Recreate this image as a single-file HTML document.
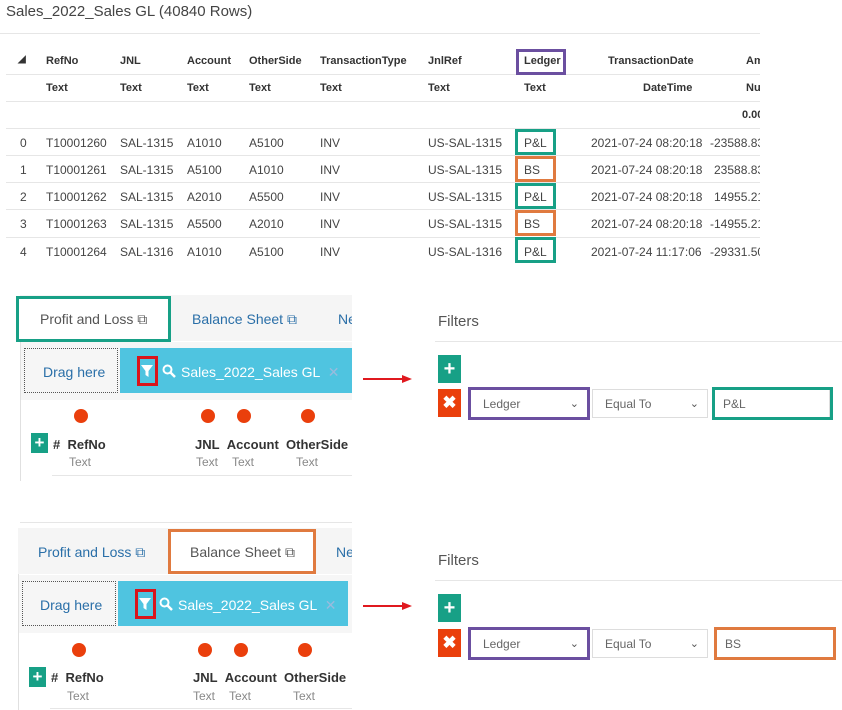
<!DOCTYPE html>
<html><head><meta charset="utf-8"><style>
body{margin:0;width:842px;height:710px;background:#fff;position:relative;overflow:hidden;font-family:"Liberation Sans",Arial,sans-serif;color:#444}
.a{position:absolute;white-space:nowrap}
.t{font-size:12px;color:#444}
.b{font-weight:bold;font-size:11px;color:#333}
.hl{position:absolute;height:1px;background:#e6e6e6}
.box{position:absolute;box-sizing:border-box;border:3px solid}
.g{border-color:#17a086}.o{border-color:#e07a3f}.p{border-color:#6b4fa0}
.dot{position:absolute;width:14px;height:14px;border-radius:50%;background:#ea3f0c}
.sel{position:absolute;box-sizing:border-box;border:1px solid #ddd;background:#fff;font-size:12px;color:#666;padding-left:12px;line-height:28px}
.sel .c{position:absolute;right:8px;top:0;font-size:11px;color:#555}
.fn{position:absolute;width:14px;height:14px}
</style></head><body>
<div class="a" style="left:6px;top:3px;font-size:15px;color:#444">Sales_2022_Sales GL (40840 Rows)</div>
<div class="hl" style="left:0;top:33px;width:760px"></div>
<div class="a b" style="left:18px;top:54px;font-size:10px">◢</div>
<div class="a b" style="left:46px;top:55px">RefNo</div><div class="a b" style="left:120px;top:55px">JNL</div><div class="a b" style="left:187px;top:55px">Account</div><div class="a b" style="left:249px;top:55px">OtherSide</div><div class="a b" style="left:320px;top:55px">TransactionType</div><div class="a b" style="left:428px;top:55px">JnlRef</div><div class="a b" style="left:524px;top:55px">Ledger</div><div class="a b" style="left:608px;top:55px">TransactionDate</div><div class="a b" style="left:746px;top:55px">Am</div>
<div class="hl" style="left:6px;top:74px;width:754px"></div>
<div class="a b" style="left:46px;top:82px">Text</div><div class="a b" style="left:120px;top:82px">Text</div><div class="a b" style="left:187px;top:82px">Text</div><div class="a b" style="left:249px;top:82px">Text</div><div class="a b" style="left:320px;top:82px">Text</div><div class="a b" style="left:428px;top:82px">Text</div><div class="a b" style="left:524px;top:82px">Text</div><div class="a b" style="left:643px;top:82px">DateTime</div><div class="a b" style="left:746px;top:82px">Nu</div>
<div class="hl" style="left:6px;top:101px;width:754px"></div>
<div class="a b" style="left:742px;top:109px">0.00</div>
<div class="hl" style="left:6px;top:128px;width:754px"></div>
<div class="box p" style="left:516px;top:49px;width:50px;height:26px"></div>

<div class="a t" style="left:20px;top:136px">0</div><div class="a t" style="left:46px;top:136px">T10001260</div><div class="a t" style="left:120px;top:136px">SAL-1315</div><div class="a t" style="left:187px;top:136px">A1010</div><div class="a t" style="left:249px;top:136px">A5100</div><div class="a t" style="left:320px;top:136px">INV</div><div class="a t" style="left:428px;top:136px">US-SAL-1315</div><div class="a t" style="left:524px;top:136px">P&amp;L</div><div class="a t" style="left:591px;top:136px">2021-07-24 08:20:18</div><div class="a t" style="left:710px;top:136px">-23588.83</div>
<div class="hl" style="left:6px;top:155px;width:754px"></div>
<div class="a t" style="left:20px;top:163px">1</div><div class="a t" style="left:46px;top:163px">T10001261</div><div class="a t" style="left:120px;top:163px">SAL-1315</div><div class="a t" style="left:187px;top:163px">A5100</div><div class="a t" style="left:249px;top:163px">A1010</div><div class="a t" style="left:320px;top:163px">INV</div><div class="a t" style="left:428px;top:163px">US-SAL-1315</div><div class="a t" style="left:524px;top:163px">BS</div><div class="a t" style="left:591px;top:163px">2021-07-24 08:20:18</div><div class="a t" style="left:714px;top:163px">23588.83</div>
<div class="hl" style="left:6px;top:182px;width:754px"></div>
<div class="a t" style="left:20px;top:190px">2</div><div class="a t" style="left:46px;top:190px">T10001262</div><div class="a t" style="left:120px;top:190px">SAL-1315</div><div class="a t" style="left:187px;top:190px">A2010</div><div class="a t" style="left:249px;top:190px">A5500</div><div class="a t" style="left:320px;top:190px">INV</div><div class="a t" style="left:428px;top:190px">US-SAL-1315</div><div class="a t" style="left:524px;top:190px">P&amp;L</div><div class="a t" style="left:591px;top:190px">2021-07-24 08:20:18</div><div class="a t" style="left:714px;top:190px">14955.21</div>
<div class="hl" style="left:6px;top:209px;width:754px"></div>
<div class="a t" style="left:20px;top:217px">3</div><div class="a t" style="left:46px;top:217px">T10001263</div><div class="a t" style="left:120px;top:217px">SAL-1315</div><div class="a t" style="left:187px;top:217px">A5500</div><div class="a t" style="left:249px;top:217px">A2010</div><div class="a t" style="left:320px;top:217px">INV</div><div class="a t" style="left:428px;top:217px">US-SAL-1315</div><div class="a t" style="left:524px;top:217px">BS</div><div class="a t" style="left:591px;top:217px">2021-07-24 08:20:18</div><div class="a t" style="left:710px;top:217px">-14955.21</div>
<div class="hl" style="left:6px;top:237px;width:754px"></div>
<div class="a t" style="left:20px;top:245px">4</div><div class="a t" style="left:46px;top:245px">T10001264</div><div class="a t" style="left:120px;top:245px">SAL-1316</div><div class="a t" style="left:187px;top:245px">A1010</div><div class="a t" style="left:249px;top:245px">A5100</div><div class="a t" style="left:320px;top:245px">INV</div><div class="a t" style="left:428px;top:245px">US-SAL-1316</div><div class="a t" style="left:524px;top:245px">P&amp;L</div><div class="a t" style="left:591px;top:245px">2021-07-24 11:17:06</div><div class="a t" style="left:710px;top:245px">-29331.50</div>
<div style="position:absolute;left:760px;top:40px;width:82px;height:230px;background:#fff"></div>
<div class="box g" style="left:515px;top:129px;width:41px;height:26px"></div>
<div class="box o" style="left:515px;top:156px;width:41px;height:26px"></div>
<div class="box g" style="left:515px;top:183px;width:41px;height:26px"></div>
<div class="box o" style="left:515px;top:210px;width:41px;height:26px"></div>
<div class="box g" style="left:515px;top:237px;width:41px;height:26px"></div>

<!-- panel 1 -->
<div style="position:absolute;left:20px;top:295px;width:332px;height:46px;background:#f5f5f5"></div>
<div style="position:absolute;left:20px;top:341px;width:1px;height:140px;background:#e0e0e0"></div>
<div style="position:absolute;left:16px;top:296px;width:155px;height:45px;background:#fff"></div>
<div class="box g" style="left:16px;top:296px;width:155px;height:46px"></div>
<div class="a" style="left:40px;top:311px;font-size:14px;color:#555">Profit and Loss ⧉</div>
<div class="a" style="left:192px;top:311px;font-size:14px;color:#2a6fa8">Balance Sheet ⧉</div>
<div class="a" style="left:338px;top:311px;font-size:14px;color:#2a6fa8;width:14px;overflow:hidden">Ne</div>
<div style="position:absolute;left:21px;top:342px;width:331px;height:58px;background:#f6f6f6"></div>
<div style="position:absolute;left:24px;top:348px;width:94px;height:45px;box-sizing:border-box;border:1px dotted #555;background:#f6f6f6"></div>
<div class="a" style="left:43px;top:364px;font-size:14px;color:#2a6fa8">Drag here</div>
<div style="position:absolute;left:120px;top:348px;width:232px;height:45px;background:#4fc4e0"></div>
<svg class="fn" style="left:140px;top:364px" viewBox="0 0 14 14"><path d="M1 1H13L8.5 7V13L5.5 11V7Z" fill="#fff"/></svg>
<div class="box" style="left:137px;top:356px;width:21px;height:30px;border-color:#d9141b"></div>
<svg class="fn" style="left:162px;top:364px" viewBox="0 0 14 14"><circle cx="5.5" cy="5.5" r="4" fill="none" stroke="#fff" stroke-width="2"/><path d="M8.5 8.5L13 13" stroke="#fff" stroke-width="2.5"/></svg>
<div class="a" style="left:181px;top:364px;font-size:14px;color:#fff">Sales_2022_Sales GL <span style="color:#9bd;margin-left:4px">✕</span></div>
<div class="dot" style="left:74px;top:409px"></div><div class="dot" style="left:201px;top:409px"></div><div class="dot" style="left:237px;top:409px"></div><div class="dot" style="left:301px;top:409px"></div>
<div class="a" style="left:31px;top:433px;width:17px;height:20px;background:#17a086;color:#fff;font-weight:bold;font-size:17px;text-align:center;line-height:20px">+</div>
<div class="a" style="left:53px;top:437px;font-size:13px;font-weight:bold;color:#333">#&nbsp;&nbsp;RefNo</div>
<div class="a" style="left:195px;top:437px;font-size:13px;font-weight:bold;color:#333">JNL&nbsp;&nbsp;Account&nbsp;&nbsp;OtherSide</div>
<div class="a" style="left:69px;top:455px;font-size:12px;color:#888">Text</div><div class="a" style="left:196px;top:455px;font-size:12px;color:#888">Text</div><div class="a" style="left:232px;top:455px;font-size:12px;color:#888">Text</div><div class="a" style="left:296px;top:455px;font-size:12px;color:#888">Text</div>
<div class="hl" style="left:52px;top:475px;width:300px"></div>
<div style="position:absolute;left:352px;top:290px;width:60px;height:200px;background:#fff"></div>
<div style="position:absolute;left:363px;top:378px;width:42px;height:2px;background:#e0191f"></div>
<div class="a" style="left:402px;top:375px;width:0;height:0;border-left:10px solid #e0191f;border-top:4px solid transparent;border-bottom:4px solid transparent"></div>

<div class="a" style="left:438px;top:313px;font-size:15px;color:#555">Filters</div>
<div class="hl" style="left:435px;top:341px;width:407px"></div>
<div class="a" style="left:438px;top:355px;width:23px;height:28px;background:#17a086;color:#fff;font-weight:bold;font-size:20px;text-align:center;line-height:28px">+</div>
<div class="a" style="left:438px;top:389px;width:23px;height:28px;background:#ea3f0c;color:#fff;font-weight:bold;font-size:17px;text-align:center;line-height:28px">✖</div>
<div class="sel" style="left:470px;top:389px;width:118px;height:29px">Ledger<span class="c">⌄</span></div>
<div class="box p" style="left:468px;top:387px;width:122px;height:33px"></div>
<div class="sel" style="left:592px;top:389px;width:116px;height:29px">Equal To<span class="c">⌄</span></div>
<div class="sel" style="left:714px;top:389px;width:116px;height:29px;padding-left:8px">P&amp;L</div>
<div class="box g" style="left:712px;top:387px;width:121px;height:33px"></div>

<!-- panel 2 -->
<div class="hl" style="left:20px;top:522px;width:332px"></div>
<div style="position:absolute;left:18px;top:528px;width:334px;height:46px;background:#f5f5f5"></div>
<div style="position:absolute;left:18px;top:574px;width:1px;height:136px;background:#e0e0e0"></div>
<div style="position:absolute;left:168px;top:529px;width:148px;height:45px;background:#fff"></div>
<div class="box o" style="left:168px;top:529px;width:148px;height:45px"></div>
<div class="a" style="left:38px;top:544px;font-size:14px;color:#2a6fa8">Profit and Loss ⧉</div>
<div class="a" style="left:190px;top:544px;font-size:14px;color:#555">Balance Sheet ⧉</div>
<div class="a" style="left:336px;top:544px;font-size:14px;color:#2a6fa8;width:16px;overflow:hidden">Ne</div>
<div style="position:absolute;left:19px;top:575px;width:333px;height:58px;background:#f6f6f6"></div>
<div style="position:absolute;left:22px;top:581px;width:94px;height:45px;box-sizing:border-box;border:1px dotted #555;background:#f6f6f6"></div>
<div class="a" style="left:40px;top:597px;font-size:14px;color:#2a6fa8">Drag here</div>
<div style="position:absolute;left:118px;top:581px;width:230px;height:45px;background:#4fc4e0"></div>
<svg class="fn" style="left:138px;top:597px" viewBox="0 0 14 14"><path d="M1 1H13L8.5 7V13L5.5 11V7Z" fill="#fff"/></svg>
<div class="box" style="left:135px;top:589px;width:21px;height:30px;border-color:#d9141b"></div>
<svg class="fn" style="left:159px;top:597px" viewBox="0 0 14 14"><circle cx="5.5" cy="5.5" r="4" fill="none" stroke="#fff" stroke-width="2"/><path d="M8.5 8.5L13 13" stroke="#fff" stroke-width="2.5"/></svg>
<div class="a" style="left:178px;top:597px;font-size:14px;color:#fff">Sales_2022_Sales GL <span style="color:#9bd;margin-left:4px">✕</span></div>
<div class="dot" style="left:72px;top:643px"></div><div class="dot" style="left:198px;top:643px"></div><div class="dot" style="left:234px;top:643px"></div><div class="dot" style="left:298px;top:643px"></div>
<div class="a" style="left:29px;top:667px;width:17px;height:20px;background:#17a086;color:#fff;font-weight:bold;font-size:17px;text-align:center;line-height:20px">+</div>
<div class="a" style="left:51px;top:670px;font-size:13px;font-weight:bold;color:#333">#&nbsp;&nbsp;RefNo</div>
<div class="a" style="left:193px;top:670px;font-size:13px;font-weight:bold;color:#333">JNL&nbsp;&nbsp;Account&nbsp;&nbsp;OtherSide</div>
<div class="a" style="left:67px;top:689px;font-size:12px;color:#888">Text</div><div class="a" style="left:193px;top:689px;font-size:12px;color:#888">Text</div><div class="a" style="left:229px;top:689px;font-size:12px;color:#888">Text</div><div class="a" style="left:293px;top:689px;font-size:12px;color:#888">Text</div>
<div class="hl" style="left:50px;top:708px;width:302px"></div>
<div style="position:absolute;left:352px;top:520px;width:60px;height:190px;background:#fff"></div>
<div style="position:absolute;left:363px;top:605px;width:42px;height:2px;background:#e0191f"></div>
<div class="a" style="left:402px;top:602px;width:0;height:0;border-left:10px solid #e0191f;border-top:4px solid transparent;border-bottom:4px solid transparent"></div>

<div class="a" style="left:438px;top:552px;font-size:15px;color:#555">Filters</div>
<div class="hl" style="left:435px;top:580px;width:407px"></div>
<div class="a" style="left:438px;top:594px;width:23px;height:28px;background:#17a086;color:#fff;font-weight:bold;font-size:20px;text-align:center;line-height:28px">+</div>
<div class="a" style="left:438px;top:629px;width:23px;height:28px;background:#ea3f0c;color:#fff;font-weight:bold;font-size:17px;text-align:center;line-height:28px">✖</div>
<div class="sel" style="left:470px;top:629px;width:118px;height:29px">Ledger<span class="c">⌄</span></div>
<div class="box p" style="left:468px;top:627px;width:122px;height:33px"></div>
<div class="sel" style="left:592px;top:629px;width:116px;height:29px">Equal To<span class="c">⌄</span></div>
<div class="sel" style="left:716px;top:629px;width:118px;height:29px;padding-left:8px">BS</div>
<div class="box o" style="left:714px;top:627px;width:122px;height:33px"></div>
</body></html>
